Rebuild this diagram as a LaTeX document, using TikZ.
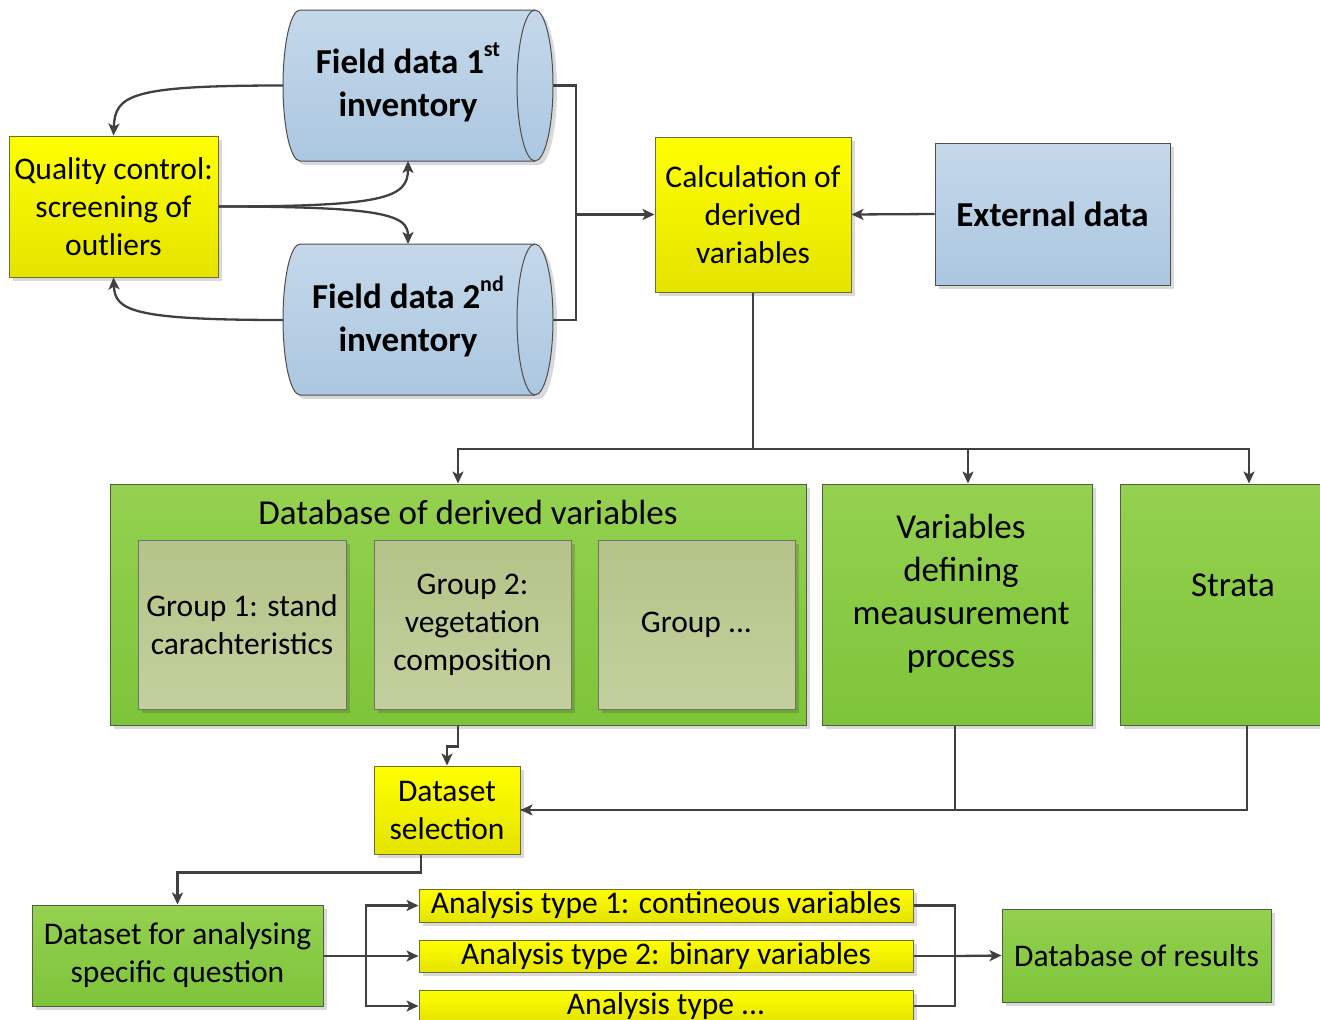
\documentclass[tikz,border=0pt]{standalone}
\usepackage{fontspec}
\setmainfont{Carlito}
\usetikzlibrary{arrows.meta,shadows,calc}

\definecolor{linegray}{HTML}{404040}
\definecolor{ytop}{HTML}{FFFF00}
\definecolor{ybot}{HTML}{E4E400}
\definecolor{ybord}{HTML}{6E6E30}
\definecolor{gtop}{HTML}{94D150}
\definecolor{gbot}{HTML}{7EC43A}
\definecolor{gbord}{HTML}{4F5F40}
\definecolor{btop}{HTML}{C5D8EA}
\definecolor{bbot}{HTML}{ABC7E0}
\definecolor{bbord}{HTML}{4D4D4D}
\definecolor{stop}{HTML}{B4C388}
\definecolor{sbot}{HTML}{C3D09E}
\definecolor{sbord}{HTML}{707070}

% outline of a horizontal drum whose top edge is at y = #1
\newcommand\drumoutline[1]{%
  (300,#1) -- (535,#1)
  .. controls (544.94,#1) and (553,#1+33.8) .. (553,#1+75.5)
  .. controls (553,#1+117.2) and (544.94,#1+151) .. (535,#1+151)
  -- (300,#1+151)
  .. controls (290.6,#1+151) and (283,#1+117.2) .. (283,#1+75.5)
  .. controls (283,#1+33.8) and (290.6,#1) .. (300,#1) -- cycle}
\newcommand\drumface[1]{%
  (535,#1) .. controls (525.06,#1) and (517,#1+33.8) .. (517,#1+75.5)
  .. controls (517,#1+117.2) and (525.06,#1+151) .. (535,#1+151)}
% raised ordinal suffix that does not change the line height
\newcommand\ordsup[1]{\smash{\raisebox{0.48em}{\fontsize{22}{22}\selectfont #1}}}

\begin{document}
\begin{tikzpicture}[x=1pt,y=-1pt,
  norm/.style={font=\fontsize{31.5}{38}\selectfont, align=center, text=black},
  big/.style={font=\fontsize{35}{43}\selectfont, align=center, text=black},
  bigb/.style={font=\fontsize{35}{43}\selectfont\bfseries, align=center, text=black},
  softshadow/.style={drop shadow={shadow xshift=4pt,shadow yshift=-4pt,opacity=0.15,fill=black}},
  ybox/.style={rectangle, draw=ybord, line width=1pt, top color=ytop, bottom color=ybot, softshadow, inner sep=0pt},
  gbox/.style={rectangle, draw=gbord, line width=1pt, top color=gtop, bottom color=gbot, softshadow, inner sep=0pt},
  bbox/.style={rectangle, draw=bbord, line width=1pt, top color=btop, bottom color=bbot, softshadow, inner sep=0pt},
  sbox/.style={rectangle, draw=sbord, line width=1pt, top color=stop, bottom color=sbot, softshadow, inner sep=0pt},
  drum/.style={draw=bbord, line width=1pt, top color=btop, bottom color=bbot},
  conn/.style={draw=linegray, line width=2.3pt},
  arr/.style={conn, -{Stealth[length=12pt,width=11pt,inset=3pt]}},
]
\useasboundingbox (0,0) rectangle (1320,1020);

% ---- input data drums ----
\path[drum, softshadow] \drumoutline{10};
\draw[bbord, line width=1pt] \drumface{10};
\path[drum, softshadow] \drumoutline{244};
\draw[bbord, line width=1pt] \drumface{244};
\node[bigb] (f1) at (408,85.5) {Field data 1\ordsup{st}\\inventory};
\node[bigb] (f2) at (408,320) {Field data 2\ordsup{nd}\\inventory};
\coordinate (f1w) at (283,85.5);
\coordinate (f1e) at (553,85.5);
\coordinate (f1s) at (408,161);
\coordinate (f2w) at (283,320);
\coordinate (f2e) at (553,320);
\coordinate (f2n) at (408,244);

% ---- boxes ----
\node[ybox, norm, minimum width=209pt, minimum height=141pt] (qc) at (113.5,206.5) {Quality control:\\screening of\\outliers};
\node[ybox, norm, minimum width=196pt, minimum height=155pt] (calc) at (753,214.5) {Calculation of\\derived\\variables};
\node[bbox, bigb, minimum width=235pt, minimum height=142pt] (ext) at (1052.5,214) {External data};

\node[gbox, minimum width=696pt, minimum height=241pt] (db) at (458,604.5) {};
\node[big] (dbt) at (468,512) {Database of derived variables};
\node[sbox, norm, minimum width=208pt, minimum height=169pt] (g1) at (242,624.5) {Group 1: stand\\carachteristics};
\node[sbox, norm, minimum width=197pt, minimum height=169pt] (g2) at (472.5,624.5) {Group 2:\\vegetation\\composition};
\node[sbox, norm, minimum width=197pt, minimum height=169pt] (g3) at (696.5,624.5) {Group ...};

\node[gbox, minimum width=270pt, minimum height=241pt] (var) at (957,604.5) {};
\node[big] (vart) at (961,593.5) {Variables\\defining\\meausurement\\process};
\node[gbox, minimum width=226pt, minimum height=241pt] (str) at (1233,604.5) {};
\node[big] (strt) at (1233,585) {Strata};

\node[ybox, norm, minimum width=146pt, minimum height=88pt] (ds) at (447,810) {Dataset\\selection};
\node[gbox, norm, minimum width=291pt, minimum height=101pt] (dfa) at (177.5,955.5) {Dataset for analysing\\specific question};
\node[ybox, norm, minimum width=494pt, minimum height=33pt] (a1) at (666,905.5) {Analysis type 1: contineous variables};
\node[ybox, norm, minimum width=494pt, minimum height=32pt] (a2) at (666,956) {Analysis type 2: binary variables};
\node[ybox, norm, minimum width=494pt, minimum height=32pt] (a3) at (666,1006) {Analysis type ...};
\node[gbox, norm, minimum width=269pt, minimum height=93pt] (res) at (1136.5,955.5) {Database of results};

% ---- quality control loop ----
\draw[arr] (f1w) .. controls (130,85.5) and (115,95) .. (qc.north);
\draw[arr] (f2w) .. controls (130,320) and (115,310) .. (qc.south);
\draw[arr] (qc.east) .. controls (385,206.5) and (408,198) .. (f1s);
\draw[arr] (qc.east) .. controls (385,206.5) and (408,215) .. (f2n);

% ---- inventories into the calculation ----
\coordinate (join) at (576,214.5);
\draw[conn] (f1e) -| (join) |- (f2e);
\draw[arr] (join) -- (calc.west);
\draw[arr] (ext.west) -- (calc.east);

% ---- distribution of derived variables ----
\coordinate (bus) at (753,449);
\draw[conn] (calc.south) -- (bus);
\draw[arr] (bus) -| (db.north);
\draw[arr] (bus) -| ($(var.north)+(11,0)$);
\draw[arr] (bus) -| ($(str.north)+(16,0)$);

% ---- dataset selection ----
\draw[arr] (db.south) -- ++(0,21) -| (ds.north);
\draw[arr] ($(var.south)+(-2,0)$) |- (ds.east);
\draw[conn] ($(str.south)+(14,0)$) |- (ds.east);
\draw[arr] ($(ds.south)+(-26,0)$) -- ++(0,18) -| (dfa.north);

% ---- analyses ----
\coordinate (split) at (366,956);
\draw[arr] (dfa.east |- split) -- (a2.west);
\draw[arr] (split) |- (a1.west);
\draw[arr] (split) |- (a3.west);
\coordinate (merge) at (955,956);
\draw[conn] (a1.east) -| (merge) |- (a3.east);
\draw[conn] (a2.east) -- (merge);
\draw[arr] (merge) -- (res.west);
\end{tikzpicture}
\end{document}
